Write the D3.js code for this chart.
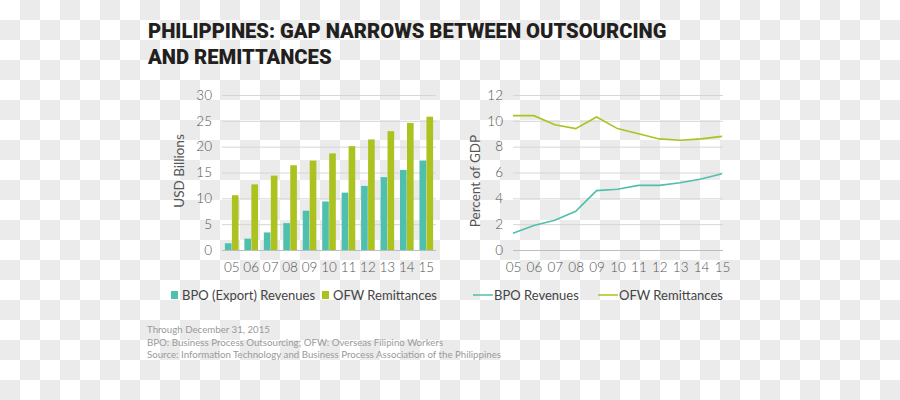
<!DOCTYPE html>
<html><head><meta charset="utf-8">
<script src="https://cdn.jsdelivr.net/npm/d3@7/dist/d3.min.js"></script>
<style>body{margin:0;}svg{display:block;}</style>
</head><body>
<svg id="c" width="900" height="400"></svg>
<script>
const years = ["05","06","07","08","09","10","11","12","13","14","15"];
const bpoRevenue = [1.3,2.2,3.4,5.2,7.6,9.4,11.1,12.4,14.1,15.5,17.3];
const ofwRemit = [10.6,12.7,14.4,16.4,17.3,18.7,20.1,21.4,23.0,24.6,25.8];
const bpoPct = [1.3,1.9,2.3,3.0,4.6,4.7,5.0,5.0,5.2,5.5,5.9];
const ofwPct = [10.4,10.4,9.7,9.4,10.3,9.4,9.0,8.6,8.5,8.6,8.8];
const leftTicks = [0,5,10,15,20,25,30];
const rightTicks = [0,2,4,6,8,10,12];
const titleLines = ["PHILIPPINES: GAP NARROWS BETWEEN OUTSOURCING","AND REMITTANCES"];
const notes = ["Through December 31, 2015","BPO: Business Process Outsourcing; OFW: Overseas Filipino Workers","Source: Information Technology and Business Process Association of the Philippines"];

const TEAL = "#4fbfae", GREEN = "#abc21f";
const svg = d3.select("#c");
const W = 900, H = 400;

// checkerboard background
const defs = svg.append("defs");
const pat = defs.append("pattern").attr("id","chk").attr("width",40).attr("height",40).attr("patternUnits","userSpaceOnUse");
pat.append("rect").attr("width",40).attr("height",40).attr("fill","#ffffff");
pat.append("rect").attr("x",20).attr("y",0).attr("width",20).attr("height",20).attr("fill","#ebebeb");
pat.append("rect").attr("x",0).attr("y",20).attr("width",20).attr("height",20).attr("fill","#ebebeb");
svg.append("rect").attr("width",W).attr("height",H).attr("fill","url(#chk)");

const font = "Lato, 'Open Sans', sans-serif";

// title
svg.append("g").selectAll("text").data(titleLines).join("text")
  .attr("x",148).attr("y",(d,i)=>38+i*26)
  .attr("font-family","Roboto, sans-serif").attr("font-weight",900)
  .attr("font-size",20.2).attr("fill","#231f20").text(d=>d);

// LEFT CHART
const yL = d3.scaleLinear().domain([0,30]).range([250,95]);
const xL = d3.scaleBand().domain(years).range([222,436]).paddingInner(0.3).paddingOuter(0.15);
const xSub = d3.scaleBand().domain(["bpo","ofw"]).range([0,xL.bandwidth()]).paddingInner(0.05);

const tickStyle = g=>g.attr("font-family",font).attr("font-weight",300).attr("font-size",13.5).attr("fill","#555");

const gL = svg.append("g");
gL.append("g").attr("transform","translate(222,0)")
  .call(d3.axisLeft(yL).tickValues(leftTicks).tickSize(-214).tickPadding(10))
  .call(g=>{g.select(".domain").remove();
    g.selectAll(".tick line").attr("stroke",d=>d===0?"#bdbdbd":"#d6d6d6");
    g.selectAll(".tick text").call(tickStyle);});

gL.append("g").selectAll("rect.b").data(years).join("rect")
  .attr("x",d=>xL(d)+xSub("bpo")).attr("width",xSub.bandwidth())
  .attr("y",(d,i)=>yL(bpoRevenue[i])).attr("height",(d,i)=>yL(0)-yL(bpoRevenue[i]))
  .attr("fill",TEAL);
gL.append("g").selectAll("rect.o").data(years).join("rect")
  .attr("x",d=>xL(d)+xSub("ofw")).attr("width",xSub.bandwidth())
  .attr("y",(d,i)=>yL(ofwRemit[i])).attr("height",(d,i)=>yL(0)-yL(ofwRemit[i]))
  .attr("fill",GREEN);

gL.append("g").attr("transform","translate(0,250)")
  .call(d3.axisBottom(xL).tickSize(0).tickPadding(12))
  .call(g=>{g.select(".domain").remove();
    g.selectAll("text").call(tickStyle);});

gL.append("text").attr("transform","translate(184,171) rotate(-90)").attr("text-anchor","middle")
  .attr("font-family",font).attr("font-weight",400).attr("font-size",13.5).attr("fill","#555").text("USD Billions");

// RIGHT CHART
const yR = d3.scaleLinear().domain([0,12]).range([250,95]);
const xR = d3.scalePoint().domain(years).range([513,722]);
const gR = svg.append("g");
gR.append("g").attr("transform","translate(513,0)")
  .call(d3.axisLeft(yR).tickValues(rightTicks).tickSize(-210).tickPadding(10))
  .call(g=>{g.select(".domain").remove();
    g.selectAll(".tick line").attr("stroke",d=>d===0?"#bdbdbd":"#d6d6d6");
    g.selectAll(".tick text").call(tickStyle);});
gR.append("g").attr("transform","translate(0,250)")
  .call(d3.axisBottom(xR).tickSize(0).tickPadding(12))
  .call(g=>{g.select(".domain").remove();
    g.selectAll("text").call(tickStyle);});

const line = d3.line().x((d,i)=>xR(years[i])).y(d=>yR(d));
gR.append("path").datum(ofwPct).attr("d",line).attr("fill","none").attr("stroke",GREEN).attr("stroke-width",1.6);
gR.append("path").datum(bpoPct).attr("d",line).attr("fill","none").attr("stroke",TEAL).attr("stroke-width",1.6);

gR.append("text").attr("transform","translate(480,181) rotate(-90)").attr("text-anchor","middle")
  .attr("font-family",font).attr("font-weight",400).attr("font-size",13.5).attr("fill","#555").text("Percent of GDP");

// LEGENDS
const legL = [{t:"BPO (Export) Revenues",c:TEAL,x:171},{t:"OFW Remittances",c:GREEN,x:322}];
const lg = svg.append("g");
lg.selectAll("rect").data(legL).join("rect").attr("x",d=>d.x).attr("y",291).attr("width",7).attr("height",8).attr("fill",d=>d.c);
lg.selectAll("text").data(legL).join("text").attr("x",d=>d.x+11).attr("y",300)
  .attr("font-family",font).attr("font-weight",400).attr("font-size",13).attr("fill","#444").text(d=>d.t);
const legR = [{t:"BPO Revenues",c:TEAL,x:473},{t:"OFW Remittances",c:GREEN,x:598}];
const lr = svg.append("g");
lr.selectAll("line").data(legR).join("line").attr("x1",d=>d.x).attr("x2",d=>d.x+20).attr("y1",295).attr("y2",295).attr("stroke",d=>d.c).attr("stroke-width",1.5);
lr.selectAll("text").data(legR).join("text").attr("x",d=>d.x+21).attr("y",300)
  .attr("font-family",font).attr("font-weight",400).attr("font-size",13).attr("fill","#444").text(d=>d.t);

// NOTES
svg.append("g").selectAll("text").data(notes).join("text")
  .attr("x",147).attr("y",(d,i)=>333+i*12.5)
  .attr("font-family",font).attr("font-weight",400).attr("font-size",9.7).attr("fill","#9a9a9a").text(d=>d);
</script>
</body></html>
